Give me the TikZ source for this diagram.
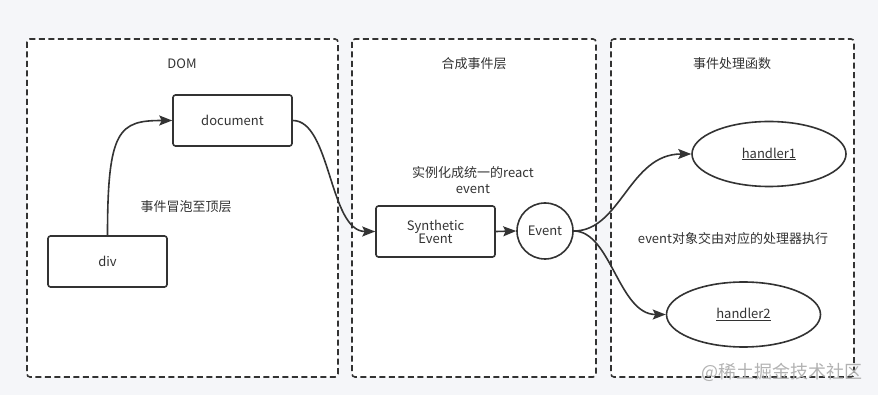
\documentclass[tikz,border=0pt]{standalone}
\usepackage{fontspec}
\setmainfont{Noto Sans CJK SC}
\usetikzlibrary{arrows.meta,shapes.geometric}
\definecolor{ink}{HTML}{333333}
\definecolor{bgc}{HTML}{F5F6F9}
\tikzset{
  panel/.style={draw=ink,fill=white,line width=1.6pt,dash pattern=on 6pt off 3.5pt,rounded corners=3pt},
  boxnode/.style={draw=ink,fill=white,line width=1.6pt,rounded corners=2.5pt,align=center,text=ink,font=\fontsize{13}{15}\selectfont},
  lbl/.style={text=ink,font=\fontsize{13}{16}\selectfont,align=center},
  conn/.style={draw=ink,line width=1.6pt,-{Stealth[length=13pt,width=10pt,inset=2.5pt]}},
}
\begin{document}
\begin{tikzpicture}[x=1pt,y=-1pt]
\fill[bgc] (0,0) rectangle (878,395);
\useasboundingbox (0,0) rectangle (878,395);
% panels
\path[panel] (27,39) rectangle (338,377);
\path[panel] (352,39) rectangle (596,377);
\path[panel] (611,39) rectangle (854,377);
% titles
\node[lbl] (t1) at (182,64) {DOM};
\node[lbl] (t2) at (474,64) {合成事件层};
\node[lbl] (t3) at (732,64) {事件处理函数};
% nodes
\node[boxnode,minimum width=119pt,minimum height=51pt] (document) at (232.5,120.5) {document};
\node[boxnode,minimum width=119pt,minimum height=51pt] (div) at (107.5,261.5) {div};
\node[boxnode,minimum width=119pt,minimum height=51pt,inner sep=2pt] (syn) at (435.5,231.5) {Synthetic\\[-2pt]Event};
\node[draw=ink,line width=1.6pt,fill=white,circle,minimum size=56pt,inner sep=0pt,text=ink,font=\fontsize{13}{15}\selectfont] (ev) at (545,231) {Event};
\node[draw=ink,line width=1.6pt,fill=white,ellipse,minimum width=154pt,minimum height=65pt,inner sep=0pt,text=ink,font=\fontsize{13}{15}\selectfont] (h1) at (769,154) {\underline{handler1}};
\node[draw=ink,line width=1.6pt,fill=white,ellipse,minimum width=154pt,minimum height=65pt,inner sep=0pt,text=ink,font=\fontsize{13}{15}\selectfont] (h2) at (743.5,314.5) {\underline{handler2}};
% labels
\node[lbl] (l1) at (186,207) {事件冒泡至顶层};
\node[lbl] (l2) at (473,180) {实例化成统一的react\\event};
\node[lbl] (l3) at (733,239) {event对象交由对应的处理器执行};
% connectors
\draw[conn] (div.north) .. controls ([yshift=106pt]div.north) and ([xshift=-53pt]document.west) .. (document.west);
\draw[conn] (document.east) .. controls ([xshift=38pt]document.east) and ([xshift=-46pt]syn.west) .. (syn.west);
\draw[conn] (syn.east) -- (ev.west);
\draw[conn] (ev.east) .. controls ([xshift=47pt]ev.east) and ([xshift=-62pt]h1.west) .. (h1.west);
\draw[conn] (ev.east) .. controls ([xshift=37pt]ev.east) and ([xshift=-47pt]h2.west) .. (h2.west);
% watermark
\node[text=black!30,font=\fontsize{18}{20}\selectfont,anchor=east] (wm) at (866,372) {@稀土掘金技术社区};
\end{tikzpicture}
\end{document}
